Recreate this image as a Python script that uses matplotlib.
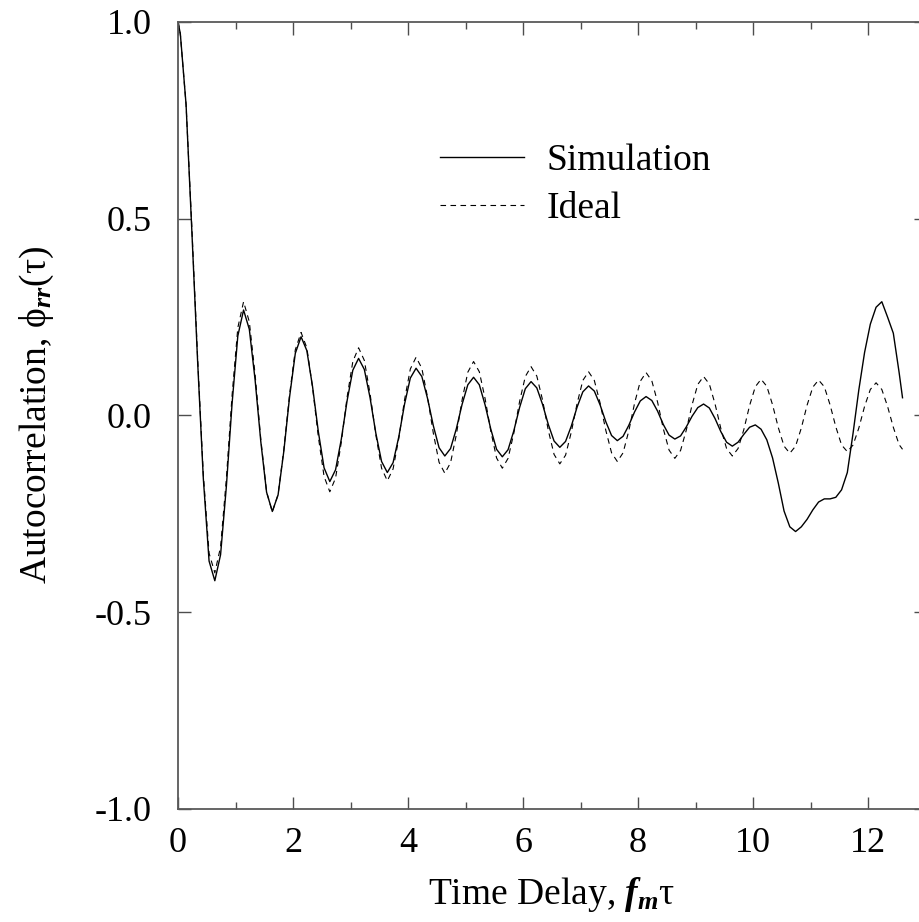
import numpy as np
import matplotlib
matplotlib.use("Agg")
import matplotlib.pyplot as plt
from matplotlib.ticker import MultipleLocator

plt.rcParams['font.family'] = ['Liberation Serif', 'DejaVu Serif']
plt.rcParams['mathtext.fontset'] = 'custom'
plt.rcParams['mathtext.rm'] = 'Liberation Serif'
plt.rcParams['mathtext.it'] = 'Liberation Serif:italic'
plt.rcParams['mathtext.bf'] = 'Liberation Serif:italic:bold'

# sample grid of time delay (f_m * tau)
tau = np.round(np.concatenate(([0.0], np.arange(0.04, 12.55, 0.1), [12.6])), 2)

simulation = [
    1.0,
    0.97, 0.79, 0.47, 0.14, -0.16, -0.37, -0.42, -0.354, -0.182, 0.030,
    0.202, 0.268, 0.219, 0.091, -0.067, -0.195, -0.244, -0.202, -0.091, 0.047,
    0.158, 0.200, 0.165, 0.073, -0.041, -0.133, -0.168, -0.138, -0.060, 0.037,
    0.115, 0.145, 0.117, 0.045, -0.045, -0.117, -0.145, -0.120, -0.054, 0.029,
    0.095, 0.120, 0.099, 0.043, -0.026, -0.082, -0.103, -0.084, -0.034, 0.028,
    0.078, 0.097, 0.078, 0.027, -0.035, -0.086, -0.105, -0.087, -0.039, 0.020,
    0.068, 0.086, 0.070, 0.028, -0.023, -0.065, -0.081, -0.066, -0.027, 0.021,
    0.060, 0.075, 0.062, 0.027, -0.016, -0.051, -0.064, -0.053, -0.025, 0.009,
    0.037, 0.048, 0.038, 0.011, -0.023, -0.050, -0.060, -0.052, -0.029, -0.002,
    0.020, 0.029, 0.019, -0.008, -0.041, -0.068, -0.078, -0.068, -0.048, -0.030,
    -0.024, -0.035, -0.062, -0.108, -0.172, -0.243, -0.283, -0.295, -0.283, -0.264,
    -0.240, -0.220, -0.212, -0.212, -0.208, -0.189, -0.145, -0.045, 0.065, 0.160,
    0.232, 0.275, 0.289, 0.250, 0.209, 0.110,
    0.045,
]

ideal = [
    1.0,
    0.97, 0.79, 0.48, 0.15, -0.15, -0.35, -0.40, -0.334, -0.162, 0.051,
    0.223, 0.289, 0.238, 0.105, -0.061, -0.194, -0.245, -0.201, -0.087, 0.053,
    0.167, 0.211, 0.172, 0.071, -0.054, -0.155, -0.194, -0.159, -0.068, 0.046,
    0.137, 0.172, 0.140, 0.055, -0.049, -0.134, -0.166, -0.136, -0.058, 0.040,
    0.118, 0.148, 0.120, 0.046, -0.045, -0.119, -0.147, -0.120, -0.049, 0.039,
    0.110, 0.137, 0.111, 0.043, -0.040, -0.108, -0.134, -0.109, -0.045, 0.035,
    0.099, 0.124, 0.100, 0.039, -0.038, -0.099, -0.123, -0.101, -0.042, 0.030,
    0.089, 0.111, 0.089, 0.032, -0.038, -0.095, -0.117, -0.095, -0.039, 0.031,
    0.087, 0.109, 0.088, 0.034, -0.034, -0.088, -0.109, -0.089, -0.037, 0.027,
    0.079, 0.099, 0.080, 0.029, -0.033, -0.084, -0.103, -0.084, -0.036, 0.025,
    0.073, 0.092, 0.074, 0.027, -0.031, -0.078, -0.096, -0.078, -0.032, 0.026,
    0.072, 0.090, 0.073, 0.027, -0.029, -0.075, -0.092, -0.075, -0.032, 0.023,
    0.066, 0.083, 0.066, 0.023, -0.030, -0.074,
    -0.086,
]

yticks = [-1.0, -0.5, 0.0, 0.5, 1.0]
ytick_labels = ['-1.0', '-0.5', '0.0', '0.5', '1.0']

fig = plt.figure(figsize=(9.2, 9.22), dpi=100)
ax = fig.add_axes([0.1935, 0.1226, 0.8125, 0.8536])

ax.plot(tau, simulation, color='black', lw=1.0, label='Simulation')
ax.plot(tau, ideal, color='black', lw=0.8, dashes=(5, 4), label='Ideal')

ax.set_xlim(0, 13)
ax.set_ylim(-1.0, 1.0)
ax.xaxis.set_major_locator(MultipleLocator(2))
ax.xaxis.set_minor_locator(MultipleLocator(1))
ax.set_yticks(yticks)
ax.set_yticklabels(ytick_labels)

ax.tick_params(which='both', direction='in', top=True, right=True,
               color='0.3', width=1.0)
ax.tick_params(which='major', length=9)
ax.tick_params(which='minor', length=5)
ax.tick_params(axis='x', labelsize=26, pad=13)
ax.tick_params(axis='y', labelsize=26, pad=19)
for s in ax.spines.values():
    s.set_color('0.35')
    s.set_linewidth(1.3)

ax.set_xlabel(r'Time Delay, $\mathbf{f}_{\mathbf{m}}\mathrm{\tau}$', fontsize=27, labelpad=11)
ax.set_ylabel(r'Autocorrelation, $\mathrm{\phi}_{\mathbf{rr}}\mathrm{(\tau)}$', fontsize=27)
ax.yaxis.set_label_coords(-0.163, 0.5)

ax.legend(loc='upper left', bbox_to_anchor=(0.3505, 0.846), frameon=False,
          fontsize=27, handlelength=2.25, handletextpad=0.58,
          labelspacing=0.38, borderpad=0, borderaxespad=0)

fig.savefig('out.png', dpi=100)
